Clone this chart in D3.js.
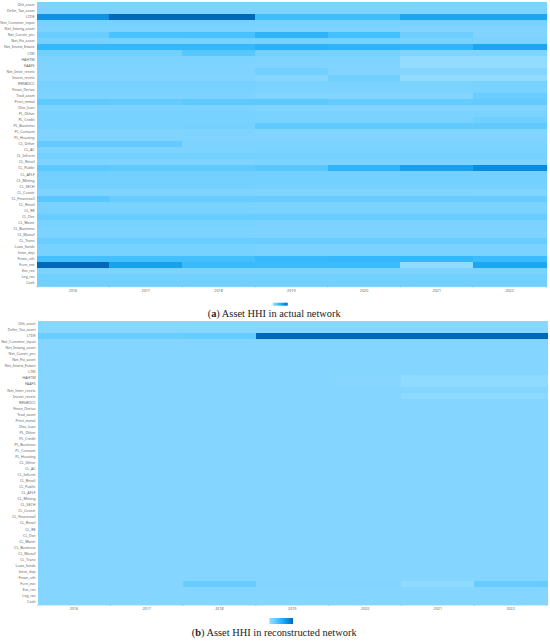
<!DOCTYPE html>
<html>
<head>
<meta charset="utf-8">
<script src="https://cdn.jsdelivr.net/npm/d3@7"></script>
<style>
  html, body { margin: 0; padding: 0; background: #fff; }
  svg { display: block; }
</style>
</head>
<body>
<div id="chart"></div>
<script>
// --------------------
// DATA
// --------------------
const years = ["2016", "2017", "2018", "2019", "2020", "2021", "2022"];

const assets = [
  "Oth_asset", "Defer_Tax_asset", "LTDE", "Net_Consmer_input", "Net_Intang_asset",
  "Net_Constr_pro", "Net_Fix_asset", "Net_Invest_Estate", "LTEI", "HAHTM", "FAAFS",
  "Net_Inter_receiv", "Invest_receiv", "RRSBOCC", "Finan_Deriva", "Trad_asset",
  "Preci_metal", "Disc_loan", "PL_Other", "PL_Credit", "PL_Business", "PL_Consum",
  "PL_Housing", "CL_Other", "CL_AC", "CL_Inform", "CL_Retail", "CL_Public", "CL_AFLF",
  "CL_Mining", "CL_SECH", "CL_Constr", "CL_Financeall", "CL_Retail", "CL_RE", "CL_Dec",
  "CL_Water", "CL_Business", "CL_Manuf", "CL_Trans", "Loan_funds", "Inter_dep",
  "Finan_oth", "Forn_exc", "Exc_res", "Leg_res", "Cash"
];

// one row per asset, one value per year
const actualHHI = [
  [.14, .14, .14, .14, .14, .14, .14],
  [.15, .15, .15, .15, .15, .15, .15],
  [.75, 1, 1, .40, .40, .62, .62],
  [.18, .18, .18, .17, .17, .17, .17],
  [.15, .15, .15, .14, .14, .13, .13],
  [.23, .36, .37, .50, .38, .22, .13],
  [.18, .17, .17, .17, .17, .16, .16],
  [.46, .46, .46, .52, .50, .48, .62],
  [.20, .20, .30, .19, .18, .13, .13],
  [.15, .15, .15, .14, .14, .04, .04],
  [.14, .14, .14, .13, .13, .04, .04],
  [.14, .14, .14, .20, .13, .11, .11],
  [.13, .13, .13, .10, .20, .04, .04],
  [.17, .17, .17, .16, .16, .16, .17],
  [.16, .16, .16, .15, .15, .15, .16],
  [.15, .15, .15, .12, .12, .12, .23],
  [.27, .26, .28, .28, .26, .26, .26],
  [.15, .15, .15, .13, .13, .13, .13],
  [.17, .17, .17, .16, .16, .16, .16],
  [.17, .17, .17, .16, .16, .16, .21],
  [.17, .17, .18, .27, .27, .27, .27],
  [.14, .14, .14, .12, .12, .12, .12],
  [.14, .14, .14, .13, .13, .13, .13],
  [.26, .26, .15, .15, .15, .15, .15],
  [.15, .15, .15, .16, .16, .16, .16],
  [.20, .20, .20, .18, .18, .18, .18],
  [.14, .14, .14, .15, .15, .15, .15],
  [.29, .27, .27, .30, .50, .66, .80],
  [.20, .20, .20, .19, .19, .19, .19],
  [.19, .19, .19, .19, .19, .19, .19],
  [.19, .19, .19, .18, .18, .18, .18],
  [.14, .14, .14, .13, .13, .13, .12],
  [.30, .24, .24, .24, .24, .24, .24],
  [.16, .16, .16, .15, .15, .15, .15],
  [.17, .17, .17, .16, .16, .16, .16],
  [.24, .24, .24, .24, .24, .24, .24],
  [.17, .17, .17, .16, .16, .16, .16],
  [.15, .15, .15, .15, .15, .15, .15],
  [.15, .15, .15, .14, .14, .14, .14],
  [.23, .23, .23, .23, .23, .23, .23],
  [.17, .17, .17, .16, .16, .16, .16],
  [.17, .17, .17, .16, .16, .16, .16],
  [.38, .38, .38, .44, .46, .46, .42],
  [1, .65, .44, .42, .42, .05, .62],
  [.15, .15, .15, .15, .15, .15, .15],
  [.20, .20, .20, .20, .20, .20, .20],
  [.20, .20, .20, .20, .20, .20, .20]
];

const reconHHI = [
  [.09, .09, .09, .09, .09, .09, .09],
  [.10, .10, .10, .10, .10, .10, .10],
  [.23, .23, .25, 1, 1, 1, 1],
  [.11, .11, .11, .11, .11, .11, .11],
  [.11, .11, .11, .11, .11, .11, .11],
  [.11, .11, .11, .11, .11, .11, .11],
  [.11, .11, .11, .11, .11, .11, .11],
  [.11, .11, .11, .11, .11, .11, .11],
  [.11, .11, .11, .11, .11, .11, .11],
  [.11, .11, .11, .11, .10, .06, .06],
  [.11, .11, .11, .11, .10, .06, .06],
  [.11, .11, .11, .11, .11, .11, .11],
  [.11, .11, .11, .11, .11, .07, .07],
  [.11, .11, .11, .11, .11, .11, .11],
  [.11, .11, .11, .11, .11, .11, .11],
  [.11, .11, .11, .11, .11, .11, .11],
  [.11, .11, .11, .11, .11, .11, .11],
  [.11, .11, .11, .11, .11, .11, .11],
  [.11, .11, .11, .11, .11, .11, .11],
  [.11, .11, .11, .11, .11, .11, .11],
  [.11, .11, .11, .11, .11, .11, .11],
  [.11, .11, .11, .11, .11, .11, .11],
  [.11, .11, .11, .11, .11, .11, .11],
  [.11, .11, .11, .11, .11, .11, .11],
  [.11, .11, .11, .11, .11, .11, .11],
  [.11, .11, .11, .11, .11, .11, .11],
  [.11, .11, .11, .11, .11, .11, .11],
  [.11, .11, .11, .11, .11, .11, .11],
  [.11, .11, .11, .11, .11, .11, .11],
  [.11, .11, .11, .11, .11, .11, .11],
  [.11, .11, .11, .11, .11, .11, .11],
  [.11, .11, .11, .11, .11, .11, .11],
  [.11, .11, .11, .11, .11, .11, .11],
  [.11, .11, .11, .11, .11, .11, .11],
  [.11, .11, .11, .11, .11, .11, .11],
  [.11, .11, .11, .11, .11, .11, .11],
  [.11, .11, .11, .11, .11, .11, .11],
  [.11, .11, .11, .11, .11, .11, .11],
  [.11, .11, .11, .11, .11, .11, .11],
  [.11, .11, .11, .11, .11, .11, .11],
  [.11, .11, .11, .11, .11, .11, .11],
  [.11, .11, .11, .11, .11, .11, .11],
  [.11, .11, .11, .11, .11, .11, .11],
  [.11, .11, .24, .13, .12, .06, .24],
  [.11, .11, .11, .11, .11, .11, .11],
  [.11, .11, .11, .11, .11, .11, .11],
  [.11, .11, .11, .11, .11, .11, .11]
];

const colorStops = [0, .1, .2, .4, .6, .8, 1];
const colorRange = ["#9cdfff", "#86d6ff", "#72d0ff", "#3fbeff", "#1ea8f3", "#0a8ae0", "#0068b8"];


// --------------------
// CHART
// --------------------
const width = 550;
const height = 641;

const svg = d3.select("#chart")
  .append("svg")
  .attr("width", width)
  .attr("height", height);

const color = d3.scaleLinear()
  .domain(colorStops)
  .range(colorRange);

const grad = svg.append("defs").append("linearGradient")
  .attr("id", "legendGrad");

grad.selectAll("stop")
  .data(colorStops)
  .join("stop")
  .attr("offset", d => d)
  .attr("stop-color", d => color(d));


function drawPanel(cfg) {
  const x = d3.scaleBand()
    .domain(years)
    .range([cfg.left, cfg.right]);

  // assets can repeat (CL_Retail), so the band scale runs on row index
  const y = d3.scaleBand()
    .domain(d3.range(assets.length))
    .range([cfg.top, cfg.bottom]);

  const g = svg.append("g");

  const rows = g.selectAll("g.row")
    .data(cfg.values)
    .join("g")
    .attr("class", "row")
    .attr("transform", (d, i) => `translate(0,${y(i)})`);

  // crisp edges so the cells don't leave pale seams between them
  rows.selectAll("rect")
    .data(d => d.map((v, i) => ({year: years[i], v})))
    .join("rect")
    .attr("x", d => x(d.year))
    .attr("width", x.bandwidth() + 0.5)
    .attr("height", y.bandwidth() + 0.5)
    .attr("shape-rendering", "crispEdges")
    .attr("fill", d => color(d.v));

  // Axes
  const yAxis = g.append("g")
    .attr("transform", `translate(${cfg.left},0)`)
    .call(d3.axisLeft(y).tickSize(0).tickPadding(2).tickFormat(i => assets[i]));

  const xAxis = g.append("g")
    .attr("transform", `translate(0,${cfg.bottom})`)
    .call(d3.axisBottom(x).tickSize(0).tickPadding(2.6));

  yAxis.select(".domain").remove();
  xAxis.select(".domain")
    .attr("stroke", "#9fdcf8")
    .attr("stroke-width", 0.6);

  yAxis.selectAll("text")
    .attr("fill", "#666")
    .style("font-family", "'Noto Sans', sans-serif")
    .style("font-size", "3.7px");

  xAxis.selectAll("text")
    .attr("fill", "#666")
    .style("font-family", "'Noto Sans', sans-serif")
    .style("font-size", "3.7px");

  // tick marks sit on the year boundaries, not on the labels
  g.selectAll("line.bound")
    .data(d3.range(years.length + 1))
    .join("line")
    .attr("class", "bound")
    .attr("x1", d => cfg.left + d * x.step())
    .attr("x2", d => cfg.left + d * x.step())
    .attr("y1", cfg.bottom)
    .attr("y2", cfg.bottom + 1.2)
    .attr("stroke", "#888")
    .attr("stroke-width", 0.4);

  // Legend
  g.append("rect")
    .attr("x", cfg.legend[0])
    .attr("y", cfg.legend[1])
    .attr("width", cfg.legend[2])
    .attr("height", cfg.legend[3])
    .attr("fill", "url(#legendGrad)");

  // Caption
  const cap = g.append("text")
    .attr("x", cfg.capX)
    .attr("y", cfg.capY)
    .attr("text-anchor", "middle")
    .attr("fill", "#222")
    .style("font-family", "'Liberation Serif', serif")
    .style("font-size", "10.4px");

  cap.append("tspan").text("(");
  cap.append("tspan").attr("font-weight", "bold").text(cfg.letter);
  cap.append("tspan").text(") " + cfg.title);
}


drawPanel({
  values: actualHHI,
  left: 36.6, right: 546, top: 1.9, bottom: 286.3,
  legend: [272.7, 302.7, 15, 3],
  capX: 274.2, capY: 317.3,
  letter: "a", title: "Asset HHI in actual network"
});

drawPanel({
  values: reconHHI,
  left: 37.5, right: 547, top: 320.8, bottom: 604.9,
  legend: [269.3, 618, 23.7, 6],
  capX: 274.2, capY: 635.6,
  letter: "b", title: "Asset HHI in reconstructed network"
});
</script>
</body>
</html>
